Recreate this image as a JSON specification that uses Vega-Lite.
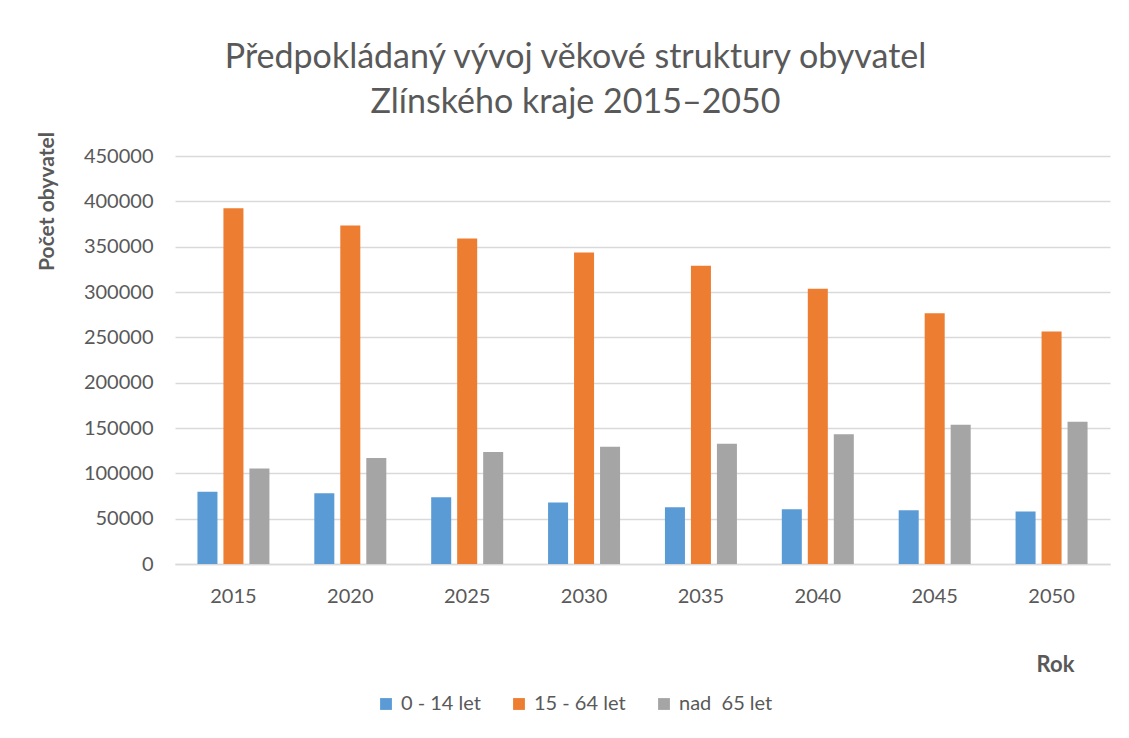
{
  "$schema": "https://vega.github.io/schema/vega-lite/v6.json",
  "autosize": "none",
  "width": 935,
  "height": 408,
  "padding": {"left": 175, "top": 156, "right": 19, "bottom": 174},
  "background": "white",
  "title": {
    "text": ["Předpokládaný vývoj věkové struktury obyvatel", "Zlínského kraje 2015–2050"],
    "anchor": "middle",
    "frame": "group",
    "dx": -67,
    "offset": 12,
    "font": "Lato",
    "fontSize": 34,
    "fontWeight": "normal",
    "color": "#595959",
    "lineHeight": 45
  },
  "data": {
    "values": [
      {"rok": "2015", "skupina": "0 - 14 let", "pocet": 79600},
      {"rok": "2015", "skupina": "15 - 64 let", "pocet": 392500},
      {"rok": "2015", "skupina": "nad\u00a0 65 let", "pocet": 105200},
      {"rok": "2020", "skupina": "0 - 14 let", "pocet": 78100},
      {"rok": "2020", "skupina": "15 - 64 let", "pocet": 373400},
      {"rok": "2020", "skupina": "nad\u00a0 65 let", "pocet": 117000},
      {"rok": "2025", "skupina": "0 - 14 let", "pocet": 73700},
      {"rok": "2025", "skupina": "15 - 64 let", "pocet": 359100},
      {"rok": "2025", "skupina": "nad\u00a0 65 let", "pocet": 123500},
      {"rok": "2030", "skupina": "0 - 14 let", "pocet": 67800},
      {"rok": "2030", "skupina": "15 - 64 let", "pocet": 343700},
      {"rok": "2030", "skupina": "nad\u00a0 65 let", "pocet": 129400},
      {"rok": "2035", "skupina": "0 - 14 let", "pocet": 62700},
      {"rok": "2035", "skupina": "15 - 64 let", "pocet": 329000},
      {"rok": "2035", "skupina": "nad\u00a0 65 let", "pocet": 132700},
      {"rok": "2040", "skupina": "0 - 14 let", "pocet": 60500},
      {"rok": "2040", "skupina": "15 - 64 let", "pocet": 303500},
      {"rok": "2040", "skupina": "nad\u00a0 65 let", "pocet": 143000},
      {"rok": "2045", "skupina": "0 - 14 let", "pocet": 59400},
      {"rok": "2045", "skupina": "15 - 64 let", "pocet": 276700},
      {"rok": "2045", "skupina": "nad\u00a0 65 let", "pocet": 153600},
      {"rok": "2050", "skupina": "0 - 14 let", "pocet": 57900},
      {"rok": "2050", "skupina": "15 - 64 let", "pocet": 256500},
      {"rok": "2050", "skupina": "nad\u00a0 65 let", "pocet": 156900}
    ]
  },
  "mark": {"type": "bar"},
  "encoding": {
    "x": {
      "field": "rok",
      "type": "nominal",
      "scale": {"paddingInner": 0.384, "paddingOuter": 0.192},
      "axis": {
        "title": "Rok",
        "titleFont": "Lato",
        "titleFontSize": 22,
        "titleFontWeight": "bold",
        "titleColor": "#595959",
        "titleX": 880,
        "titleY": 100,
        "titleAlign": "center",
        "titleBaseline": "middle",
        "labelAngle": 0,
        "labelFont": "Lato",
        "labelFontSize": 20,
        "labelColor": "#595959",
        "labelPadding": 22,
        "ticks": false,
        "domain": true,
        "domainColor": "#D9D9D9",
        "domainWidth": 1.5
      }
    },
    "xOffset": {
      "field": "skupina",
      "type": "nominal",
      "scale": {"domain": ["0 - 14 let", "15 - 64 let", "nad\u00a0 65 let"], "paddingInner": 0.23, "paddingOuter": 0}
    },
    "y": {
      "field": "pocet",
      "type": "quantitative",
      "scale": {"domain": [0, 450000], "nice": false},
      "axis": {
        "title": "Počet obyvatel",
        "titleFont": "Lato",
        "titleFontSize": 21,
        "titleFontWeight": "bold",
        "titleColor": "#595959",
        "titleAngle": -90,
        "titleX": -128,
        "titleY": 45,
        "titleAlign": "center",
        "titleBaseline": "middle",
        "values": [0, 50000, 100000, 150000, 200000, 250000, 300000, 350000, 400000, 450000],
        "format": "d",
        "labelFont": "Lato",
        "labelFontSize": 20,
        "labelColor": "#595959",
        "labelPadding": 22,
        "ticks": false,
        "domain": false,
        "grid": true,
        "gridColor": "#D9D9D9",
        "gridWidth": 1.5
      }
    },
    "color": {
      "field": "skupina",
      "type": "nominal",
      "scale": {
        "domain": ["0 - 14 let", "15 - 64 let", "nad\u00a0 65 let"],
        "range": ["#5B9BD5", "#ED7D31", "#A5A5A5"]
      },
      "legend": {
        "title": null,
        "orient": "none",
        "direction": "horizontal",
        "legendX": 201,
        "legendY": 538,
        "symbolType": "square",
        "symbolSize": 140,
        "symbolStrokeWidth": 0,
        "symbolOpacity": 1,
        "labelFont": "Lato",
        "labelFontSize": 20,
        "labelColor": "#595959",
        "labelOffset": 5,
        "columnPadding": 28
      }
    }
  },
  "config": {
    "view": {"stroke": null}
  }
}
